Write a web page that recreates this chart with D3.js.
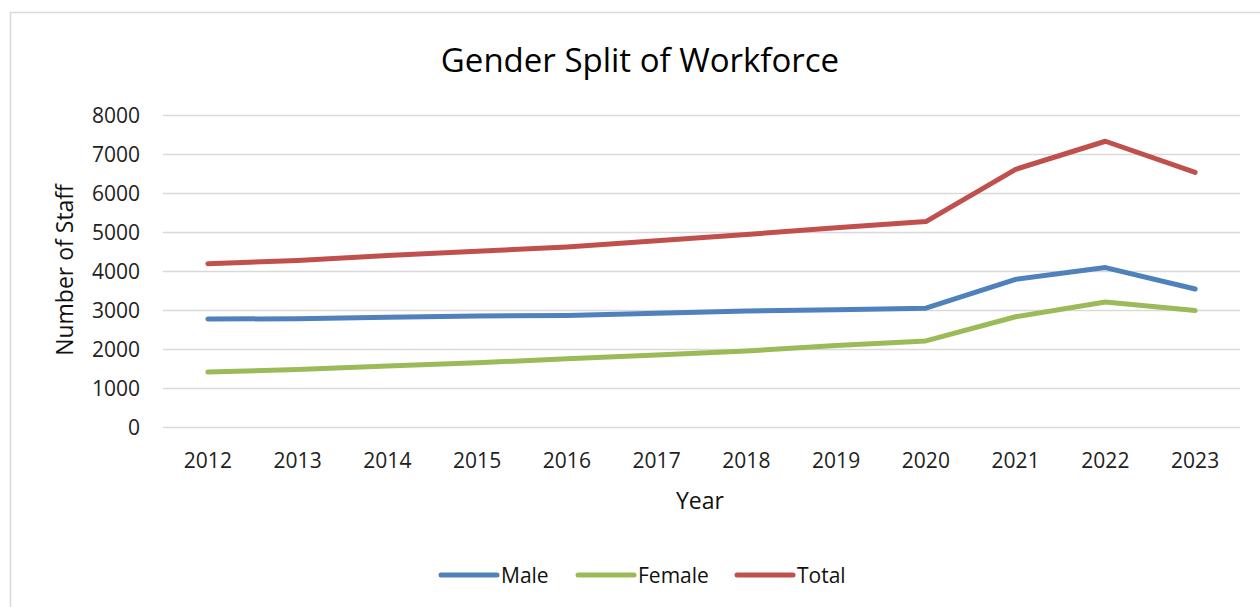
<!DOCTYPE html>
<html>
<head>
<meta charset="utf-8">
<script src="https://cdn.jsdelivr.net/npm/d3@7"></script>
<style>
  body { margin: 0; background: #fff; }
  svg { display: block; font-family: "Open Sans", "Noto Sans", sans-serif; }
</style>
</head>
<body>
<div id="chart"></div>
<script>
// data
const years = ['2012', '2013', '2014', '2015', '2016', '2017', '2018', '2019', '2020', '2021', '2022', '2023'];
const male = [2780, 2790, 2830, 2860, 2870, 2930, 2990, 3020, 3060, 3800, 4100, 3550];
const female = [1420, 1490, 1580, 1660, 1760, 1860, 1960, 2100, 2220, 2840, 3220, 3000];
const total = [4200, 4280, 4410, 4520, 4630, 4790, 4950, 5120, 5280, 6620, 7340, 6540];
const yTicks = [0, 1000, 2000, 3000, 4000, 5000, 6000, 7000, 8000];

const series = [
    { name: 'Male', values: male, color: '#4f81bd' },
    { name: 'Female', values: female, color: '#9bbb59' },
    { name: 'Total', values: total, color: '#c0504d' }
];

const width = 1260, height = 607;
const margin = { top: 115.5, right: 20, bottom: 179.5, left: 163 };
const innerW = width - margin.left - margin.right;
const innerH = height - margin.top - margin.bottom;

const svg = d3.select('#chart')
    .append('svg')
    .attr('width', width)
    .attr('height', height);

// chart frame (runs off the right/bottom edge in the reference)
svg.append('rect')
    .attr('x', 10.5)
    .attr('y', 12.5)
    .attr('width', width + 20)
    .attr('height', height + 20)
    .attr('fill', 'none')
    .attr('stroke', '#d9d9d9')
    .attr('stroke-width', 1.5);

svg.append('text')
    .attr('x', 640)
    .attr('y', 72)
    .attr('text-anchor', 'middle')
    .attr('font-size', 33)
    .attr('fill', '#000')
    .text('Gender Split of Workforce');

const g = svg.append('g')
    .attr('transform', `translate(${margin.left},${margin.top})`);

const x = d3.scaleBand()
    .domain(years)
    .range([0, innerW]);

const y = d3.scaleLinear()
    .domain([0, 8000])
    .range([innerH, 0]);

// gridlines
g.append('g')
    .selectAll('line')
    .data(yTicks)
    .join('line')
    .attr('x1', 0)
    .attr('x2', innerW)
    .attr('y1', d => y(d))
    .attr('y2', d => y(d))
    .attr('stroke', '#d9d9d9')
    .attr('stroke-width', 1.5);

// y axis labels
const yAxis = g.append('g')
    .call(d3.axisLeft(y).tickValues(yTicks).tickFormat(d3.format('d')).tickSize(0).tickPadding(23));
yAxis.select('.domain').remove();
yAxis.selectAll('text')
    .attr('font-size', 21)
    .attr('font-family', '"Open Sans", "Noto Sans", sans-serif')
    .attr('fill', '#222');

// x axis labels
const xAxis = g.append('g')
    .attr('transform', `translate(0,${innerH})`)
    .call(d3.axisBottom(x).tickSize(0).tickPadding(26));
xAxis.select('.domain').remove();
xAxis.selectAll('text')
    .attr('font-size', 21)
    .attr('font-family', '"Open Sans", "Noto Sans", sans-serif')
    .attr('fill', '#222');

// axis titles
svg.append('text')
    .attr('x', 700)
    .attr('y', 509)
    .attr('text-anchor', 'middle')
    .attr('font-size', 23)
    .attr('fill', '#111')
    .text('Year');

svg.append('text')
    .attr('transform', 'translate(73,270) rotate(-90)')
    .attr('text-anchor', 'middle')
    .attr('font-size', 23)
    .attr('fill', '#111')
    .text('Number of Staff');

// lines
const line = d3.line()
    .x((d, i) => x(years[i]) + x.bandwidth() / 2)
    .y(d => y(d));

g.selectAll('path.series')
    .data(series)
    .join('path')
    .attr('class', 'series')
    .attr('fill', 'none')
    .attr('stroke', d => d.color)
    .attr('stroke-width', 5)
    .attr('stroke-linecap', 'round')
    .attr('stroke-linejoin', 'round')
    .attr('d', d => line(d.values));

// legend
const legendX = [441, 578, 737];
const legend = svg.append('g')
    .selectAll('g')
    .data(series)
    .join('g')
    .attr('transform', (d, i) => `translate(${legendX[i]},575)`);

legend.append('line')
    .attr('x1', 0)
    .attr('x2', 56)
    .attr('stroke', d => d.color)
    .attr('stroke-width', 5)
    .attr('stroke-linecap', 'round');

legend.append('text')
    .attr('x', 60)
    .attr('y', 8)
    .attr('font-size', 21)
    .attr('fill', '#111')
    .text(d => d.name);
</script>
</body>
</html>
